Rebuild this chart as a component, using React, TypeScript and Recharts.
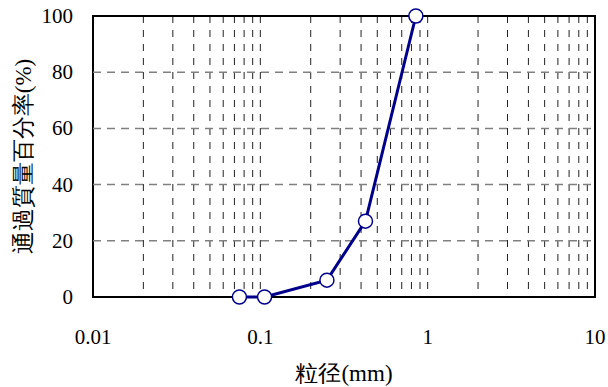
import React from 'react';
import { ComposedChart, Line, XAxis, YAxis, CartesianGrid, ReferenceLine, ReferenceArea, Label } from 'recharts';

const grainSize = [0.075, 0.106, 0.25, 0.425, 0.85];
const passing = [0, 0, 6, 27, 100];
const xTicks = [0.01, 0.02, 0.03, 0.04, 0.05, 0.06, 0.07, 0.08, 0.09, 0.1, 0.2, 0.3, 0.4, 0.5, 0.6, 0.7, 0.8, 0.9, 1, 2, 3, 4, 5, 6, 7, 8, 9, 10];
const xLabels = [0.01, 0.1, 1, 10];
const yTicks = [0, 20, 40, 60, 80, 100];
const hGrid = [20, 40, 60, 80];

const data = grainSize.map((x, i) => ({ x, y: passing[i] }));

const font = "'Liberation Serif'";

const XTick = (props: any) => {
  const { x, y, payload } = props;
  const v = payload.value;
  if (!xLabels.includes(v)) return null;
  return (
    <text x={x} y={y} textAnchor="middle" dominantBaseline="central" fill="#000" fontSize={21} fontFamily="Liberation Serif">
      {String(v)}
    </text>
  );
};

const YTick = (props: any) => {
  const { x, y, payload } = props;
  return (
    <text x={x} y={y} textAnchor="end" dominantBaseline="central" fill="#000" fontSize={21} fontFamily="Liberation Serif">
      {String(payload.value)}
    </text>
  );
};

export default function App() {
  return (
    <div style={{ position: 'absolute', left: 0, top: 0, width: 608, height: 387, background: '#fff', fontFamily: font }}>
      <ComposedChart width={608} height={387} data={data} margin={{ top: 16, right: 13, left: 0, bottom: 0 }}>
        <CartesianGrid horizontal={false} vertical={true} stroke="#222" strokeDasharray="7 7" strokeWidth={1} />
        {hGrid.map((v) => (
          <ReferenceLine key={v} y={v} stroke="#808080" strokeDasharray="8 6" strokeWidth={1.5} />
        ))}
        <XAxis
          dataKey="x"
          type="number"
          scale="log"
          domain={[0.01, 10]}
          ticks={xTicks}
          allowDataOverflow
          tickLine={false}
          tickSize={0}
          tickMargin={40}
          height={90}
          axisLine={false}
          interval={0}
          tick={<XTick />}
        >
          <Label value="粒径(mm)" position="insideBottom" offset={6} style={{ fill: '#000', fontSize: 23, fontFamily: 'Liberation Serif' }} />
        </XAxis>
        <YAxis
          type="number"
          domain={[0, 100]}
          ticks={yTicks}
          tickLine={false}
          tickSize={0}
          tickMargin={20}
          width={93}
          axisLine={false}
          interval={0}
          tick={<YTick />}
        >
          <Label value="通過質量百分率(%)" angle={-90} position="insideLeft" offset={23} style={{ fill: '#000', fontSize: 23, fontFamily: 'Liberation Serif', textAnchor: 'middle' }} />
        </YAxis>
        <ReferenceArea x1={0.01} x2={10} y1={0} y2={100} fill="none" fillOpacity={0} stroke="#000" strokeWidth={2} />
        <Line
          dataKey="y"
          stroke="#00008B"
          strokeWidth={3}
          isAnimationActive={false}
          dot={{ r: 7, fill: '#fff', stroke: '#00008B', strokeWidth: 1.5 }}
        />
      </ComposedChart>
    </div>
  );
}
